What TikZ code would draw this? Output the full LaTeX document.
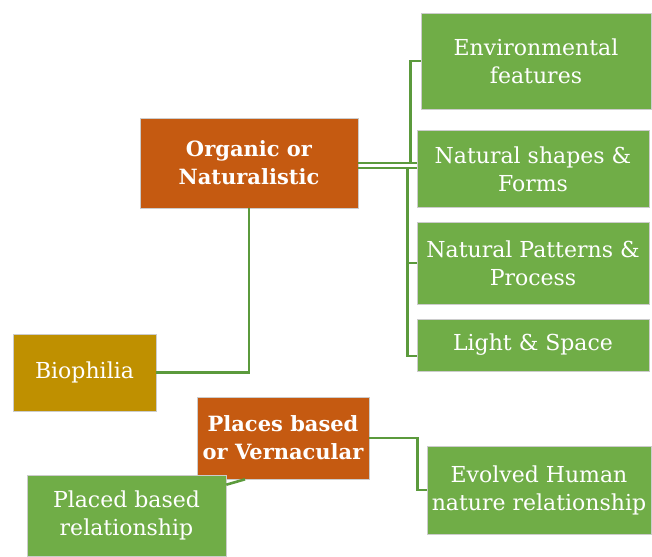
\documentclass[tikz,border=0pt]{standalone}
\usepackage{fontspec}
\setmainfont{DejaVu Serif}
\definecolor{rust}{HTML}{C55A11}
\definecolor{gold}{HTML}{BF9000}
\definecolor{leaf}{HTML}{70AD47}
\definecolor{stem}{HTML}{5B9A3C}
\begin{document}
\begin{tikzpicture}[x=1pt,y=-1pt,
  box/.style={draw=white!80!black, line width=0.6pt, text=white, align=center,
    inner sep=0pt, font=\fontsize{22}{28}\selectfont},
  mainbox/.style={box, fill=rust, font=\fontsize{21}{28}\selectfont\bfseries},
  leafbox/.style={box, fill=leaf},
  link/.style={draw=stem, line width=2.6pt}]
\useasboundingbox (0,0) rectangle (652,556);
% central theme boxes
\node[mainbox, minimum width=218pt, minimum height=90pt] (org) at (249,163) {Organic or\\Naturalistic};
\node[box, fill=gold, minimum width=143pt, minimum height=77pt] (bio) at (84.5,372.5) {Biophilia};
\node[mainbox, minimum width=172pt, minimum height=82pt] (places) at (283,438) {Places based\\or Vernacular};
% green sub-topics
\node[leafbox, minimum width=230pt, minimum height=96pt] (env) at (536,61) {Environmental\\features};
\node[leafbox, minimum width=232pt, minimum height=77pt] (shapes) at (533,169) {Natural shapes \&\\Forms};
\node[leafbox, minimum width=232pt, minimum height=82pt] (patterns) at (533,263) {Natural Patterns \&\\Process};
\node[leafbox, minimum width=232pt, minimum height=52pt] (light) at (533,345) {Light \& Space};
\node[leafbox, minimum width=224pt, minimum height=88pt] (evolved) at (539,490) {Evolved Human\\nature relationship};
\node[leafbox, minimum width=199pt, minimum height=81pt] (placed) at (126.5,515.5) {Placed based\\relationship};
% connectors
\draw[link] (org.east) -- (org.east -| shapes.west);
\draw[link] ([yshift=-5pt]org.east) -- ([yshift=-5pt]org.east -| shapes.west);
\draw[link] ([xshift=52pt]org.east) |- (env.west);
\draw[link] ([xshift=49pt,yshift=-5pt]org.east) |- (patterns.west);
\draw[link] ([xshift=49pt,yshift=-5pt]org.east) |- ([yshift=-11pt]light.west);
\draw[link] (org.south) |- (bio.east);
\draw[link] (places.east) -- ++(48,0) |- (evolved.west);
\draw[link] ([yshift=-10pt]placed.north east) -- ([xshift=-38pt]places.south);
\end{tikzpicture}
\end{document}
